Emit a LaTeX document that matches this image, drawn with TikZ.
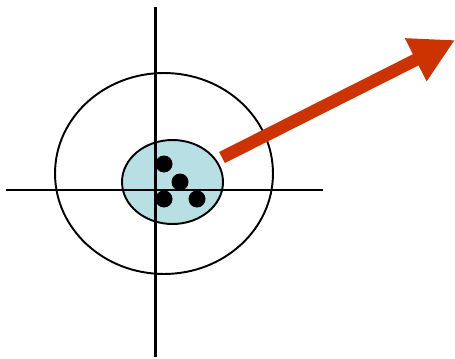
\documentclass[tikz,border=0pt]{standalone}
\usetikzlibrary{shapes.geometric,arrows.meta}
\definecolor{paleblue}{RGB}{184,224,228}
\definecolor{rust}{RGB}{204,51,0}
\begin{document}
\begin{tikzpicture}[x=0.02cm, y=-0.02cm,
  axis/.style={line width=1.7pt},
  dot/.style={circle, fill=black, inner sep=0pt, minimum size=0.34cm}]
\useasboundingbox (0,0) rectangle (455,358);
\node[ellipse, draw, line width=1.1pt, minimum width=4.36cm, minimum height=4.02cm] (outer) at (164,173.5) {};
\node[ellipse, draw, fill=paleblue, line width=1.1pt, minimum width=2.02cm, minimum height=1.68cm] (inner) at (172.5,182) {};
\coordinate (top) at (155.5,7);
\coordinate (bottom) at (155.5,357);
\coordinate (left) at (6,190);
\coordinate (right) at (323,190);
\draw[axis] (top) -- (bottom);
\draw[axis] (left) -- (right);
\node[dot] (d1) at (164,164) {};
\node[dot] (d2) at (180,182) {};
\node[dot] (d3) at (164,199) {};
\node[dot] (d4) at (197,199) {};
\coordinate (start) at (222,157.5);
\coordinate (tip) at (455,40);
\draw[rust, line width=0.25cm, -{Triangle[length=0.88cm, width=0.9cm]}] (start) -- (tip);
\end{tikzpicture}
\end{document}
